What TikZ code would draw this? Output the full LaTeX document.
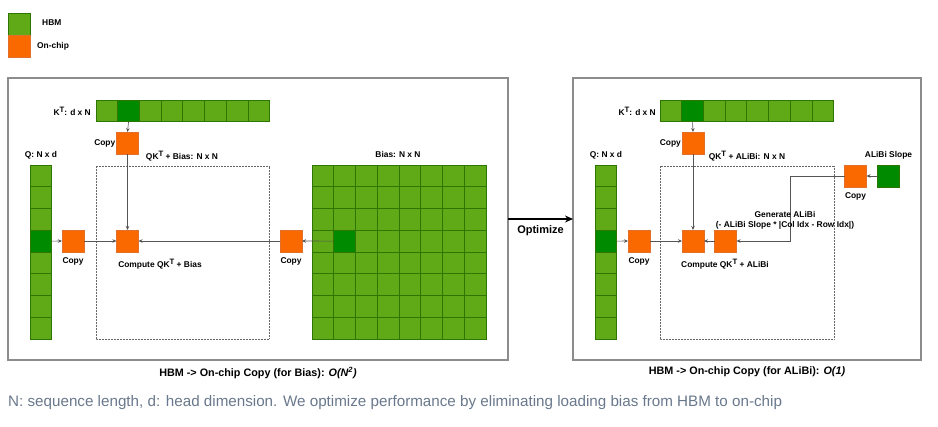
\documentclass[tikz,border=0pt]{standalone}
\usepackage{fontspec}
\setmainfont{Liberation Sans}
\usepackage{tikz}
\usetikzlibrary{arrows.meta,positioning}

\definecolor{hbm}{HTML}{60A917}
\definecolor{hbmdark}{HTML}{008A00}
\definecolor{hbmline}{HTML}{2D7600}
\definecolor{chip}{HTML}{FA6800}
\definecolor{chipline}{HTML}{E0702A}
\definecolor{wire}{HTML}{555555}
\definecolor{note}{RGB}{105,120,140}

\newcommand\supT{\raisebox{2.8pt}{\fontsize{7.8}{9}\selectfont T}}

\tikzset{
  cell/.style={draw=hbmline, fill=hbm, line width=0.7pt, minimum size=21.7pt, inner sep=0pt, outer sep=0pt},
  hot/.style={cell, fill=hbmdark},
  chipbox/.style={draw=chipline, fill=chip, line width=0.5pt, minimum size=22pt, inner sep=0pt, outer sep=0pt},
  lbl/.style={font=\bfseries\fontsize{8.4}{10}\selectfont, inner sep=1pt},
  panelcap/.style={font=\bfseries\fontsize{10.8}{13}\selectfont},
  panel/.style={draw=black!45, line width=1.1pt},
  region/.style={draw=black!60, densely dotted, line width=0.5pt},
  wirearrow/.style={draw=wire, line width=0.6pt, -{Stealth[length=4pt,width=3.5pt]}}
}

\begin{document}
\begin{tikzpicture}[x=1pt,y=-1pt]
\useasboundingbox (0,0) rectangle (938,427);

%legend
    \node[cell, minimum size=22pt] (leghbm) at (19.5,24) {};
    \node[chipbox, minimum size=22pt] (legchip) at (19.5,46) {};
    \node[lbl, anchor=west] at (41,23) {HBM};
    \node[lbl, anchor=west] at (36,46) {On-chip};

%panels
    \draw[panel] (8,78) rectangle (508,360);
    \draw[panel] (573,78) rectangle (921,360);
    \draw[region] (96,166) rectangle (269,339);
    \draw[region] (660,166) rectangle (834,339);

%K^T rows and Q columns in both panels
    \foreach \s/\kx/\qx in {l/96/30, r/660/595} {
      \foreach \i in {1,...,8} {
        \node[cell] (k\s-\i) at (\kx+21.7*\i-10.85,111) {};
        \node[cell] (q\s-\i) at (\qx+10.9,165+21.75*\i-10.9) {};
      }
      \node[hot] at (k\s-2) {};
      \node[hot] at (q\s-4) {};
    }

%bias grid
    \foreach \i in {1,...,8}
      \foreach \j in {1,...,8}
        \node[cell, minimum size=21.75pt] (b-\i-\j) at (312+21.75*\j-10.9,165+21.75*\i-10.9) {};
    \node[hot, minimum size=21.75pt] at (b-4-2) {};

%on-chip boxes, left panel
    \node[chipbox] (kcopyl) at (127.5,143) {};
    \node[chipbox] (qcopyl) at (73,241) {};
    \node[chipbox] (compl) at (127.5,241) {};
    \node[chipbox] (bcopy) at (291,241) {};

%on-chip boxes, right panel
    \node[chipbox] (kcopyr) at (693,143) {};
    \node[chipbox] (qcopyr) at (639,241) {};
    \node[chipbox] (compr) at (693,241) {};
    \node[chipbox] (gen) at (725.5,241) {};
    \node[chipbox] (scopy) at (855.5,176) {};
    \node[hot, minimum size=22pt] (slope) at (888.5,176) {};

%connectors
    \draw[wirearrow] (kl-2.south) -- (kcopyl.north);
    \draw[wirearrow] (kcopyl.south) -- (compl.north);
    \draw[wirearrow] (ql-4.east) -- (qcopyl.west);
    \draw[wirearrow] (qcopyl.east) -- (compl.west);
    \draw[wirearrow] (b-4-2.west) -- (bcopy.east);
    \draw[wirearrow] (bcopy.west) -- (compl.east);

    \draw[wirearrow] (kr-2.south) -- (kcopyr.north);
    \draw[wirearrow] (kcopyr.south) -- (compr.north);
    \draw[wirearrow] (qr-4.east) -- (qcopyr.west);
    \draw[wirearrow] (qcopyr.east) -- (compr.west);
    \draw[wirearrow] (slope.west) -- (scopy.east);
    \draw[wirearrow] (scopy.west) -| (790,241) -- (gen.east);
    \draw[wirearrow] (gen.west) -- (compr.east);

%optimize arrow
    \coordinate (optfrom) at (508,219);
    \coordinate (optto) at (573,219);
    \draw[line width=1.2pt, -{Stealth[length=8pt,width=7pt]}] (optfrom) -- (optto);
    \node[lbl, font=\bfseries\fontsize{11}{13}\selectfont] (opt) at (540.5,231) {Optimize};

%labels, left panel
    \node[lbl, anchor=east] at (92,111) {K\supT: d x N};
    \node[lbl, anchor=east] at (kcopyl.west) {Copy};
    \node[lbl] at (41,155) {Q: N x d};
    \node[lbl] at (182,156) {QK\supT{} + Bias: N x N};
    \node[lbl] at (398,155) {Bias: N x N};
    \node[lbl, below=4pt of qcopyl] {Copy};
    \node[lbl, below=4pt of bcopy] {Copy};
    \node[lbl] at (160,264) {Compute QK\supT{} + Bias};
    \node[panelcap] at (258,373) {HBM -> On-chip Copy (for Bias): \textit{O(N\textsuperscript{2})}};

%labels, right panel
    \node[lbl, anchor=east] at (657,111) {K\supT: d x N};
    \node[lbl, anchor=east] at (kcopyr.west) {Copy};
    \node[lbl] at (606,155) {Q: N x d};
    \node[lbl] at (747,156) {QK\supT{} + ALiBi: N x N};
    \node[lbl] at (888.5,155) {ALiBi Slope};
    \node[lbl, below=4pt of qcopyr] {Copy};
    \node[lbl, below=4pt of scopy] {Copy};
    \node[lbl, align=center] at (785,220) {Generate ALiBi\\(- ALiBi Slope * |Col Idx - Row Idx|)};
    \node[lbl] at (725,264) {Compute QK\supT{} + ALiBi};
    \node[panelcap] at (747,372) {HBM -> On-chip Copy (for ALiBi): \textit{O(1)}};

%note
    \node[anchor=west, text=note, font=\fontsize{15.2}{17}\selectfont, inner sep=0pt] at (8,403) {N: sequence length, d: head dimension. We optimize performance by eliminating loading bias from HBM to on-chip};
\end{tikzpicture}
\end{document}
